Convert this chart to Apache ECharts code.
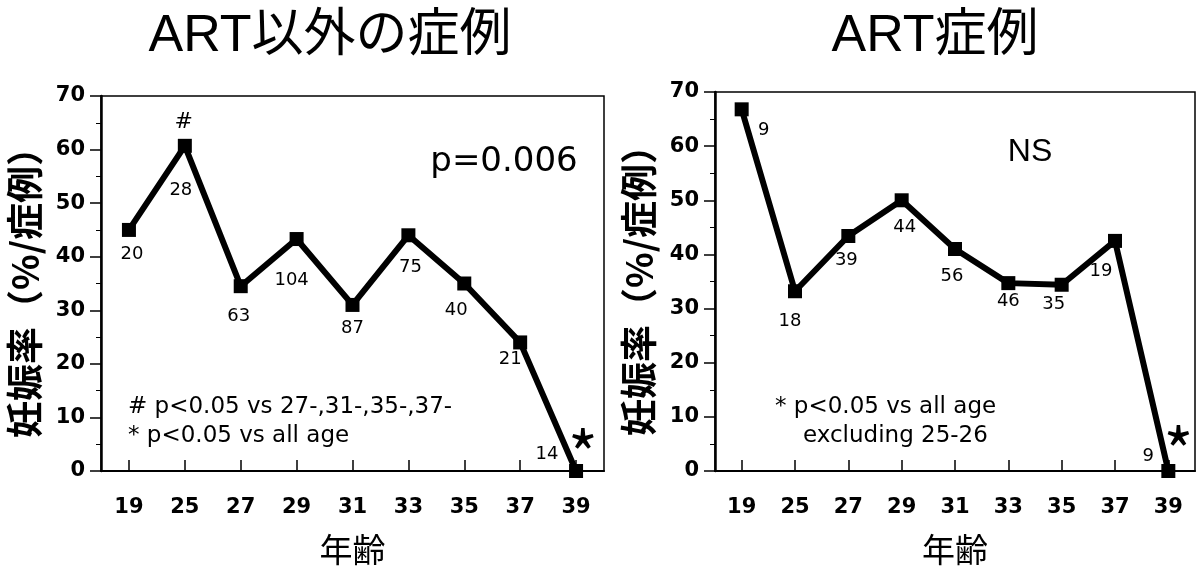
<!DOCTYPE html>
<html><head><meta charset="utf-8">
<script src="https://cdn.jsdelivr.net/npm/echarts@6/dist/echarts.min.js"></script>
<style>html,body{margin:0;padding:0;background:#fff}#c{width:1199px;height:571px}</style>
</head><body><div id="c"></div>
<script>
// ---- data ----
const ages = ['19','25','27','29','31','33','35','37','39'];
const yTicks = [0,10,20,30,40,50,60,70];
const nonArtRate = [45, 60.7, 34.5, 43.3, 31, 44, 35, 24, 0];
const nonArtCases = [20, 28, 63, 104, 87, 75, 40, 21, 14];
const artRate = [66.8, 33.2, 43.4, 50, 41, 34.7, 34.4, 42.5, 0];
const artCases = [9, 18, 39, 44, 56, 46, 35, 19, 9];
const titles = ['ART以外の症例', 'ART症例'];
const yName = '妊娠率（%/症例）';
const xName = '年齢';
const pText = ['p=0.006', 'NS'];
const notesLeft = ['# p<0.05 vs 27-,31-,35-,37-', '* p<0.05 vs all age'];
const notesRight = ['* p<0.05 vs all age', 'excluding 25-26'];

// ---- layout (label offsets from marker centre) ----
const nonArtOff = [[3,24],[-4,45],[-2,30],[-5,41],[0,23],[2,32],[-8,27],[-10,17],[-29,-17]];
const artOff = [[22,21],[-5,30],[-2,24],[3,27],[-3,27],[0,18],[-8,20],[-14,30],[-20,-15]];

const LAT = 'DejaVu Sans';
const JP = '"Liberation Sans","Noto Sans CJK JP"';

function mkX(i){
  return {
    type:'category', gridIndex:i, data:ages, boundaryGap:true,
    axisLine:{show:true, lineStyle:{color:'#000', width:2}},
    axisTick:{show:true, inside:true, alignWithLabel:true, length:11, lineStyle:{color:'#000', width:1.5}},
    axisLabel:{fontFamily:LAT, fontWeight:'bold', fontSize:21, color:'#000', margin:26},
    splitLine:{show:false},
    name:xName, nameLocation:'middle', nameGap:62,
    nameTextStyle:{fontFamily:'Noto Sans CJK JP', fontSize:33, color:'#000'}
  };
}
function mkY(i){
  return {
    type:'value', gridIndex:i, min:yTicks[0], max:yTicks[yTicks.length-1], interval:yTicks[1]-yTicks[0],
    axisLine:{show:true, lineStyle:{color:'#000', width:2.5}},
    axisTick:{show:true, inside:false, length:11, lineStyle:{color:'#000', width:1.5}},
    minorTick:{show:true, splitNumber:2, length:5, lineStyle:{color:'#000', width:1}},
    axisLabel:{fontFamily:LAT, fontWeight:'bold', fontSize:21, color:'#000', margin:16},
    splitLine:{show:false},
    name:yName, nameLocation:'middle', nameRotate:90, nameGap:58,
    nameTextStyle:{fontFamily:'Noto Sans CJK JP', fontWeight:'bold', fontSize:37, color:'#000'}
  };
}
function mkSeries(i, rate, cases, off, marks){
  return {
    type:'line', xAxisIndex:i, yAxisIndex:i,
    data: rate.map((v,k)=>({value:v, label:{offset:off[k], formatter:String(cases[k])}})),
    symbol:'rect', symbolSize:14, showAllSymbol:true,
    itemStyle:{color:'#000'}, lineStyle:{color:'#000', width:6},
    label:{show:true, position:'inside', fontFamily:LAT, fontSize:18, color:'#000', textBorderWidth:0},
    markPoint:{symbol:'rect', symbolSize:0, animation:false,
      label:{show:true, position:'inside', color:'#000', fontFamily:LAT, textBorderWidth:0},
      data: marks},
    z:3, animation:false
  };
}

const chart = echarts.init(document.getElementById('c'), null, {renderer:'canvas'});
chart.setOption({
  backgroundColor:'#fff',
  animation:false,
  grid:[
    {left:101, top:96, width:503, height:383, show:true, borderColor:'#000', borderWidth:1.5, backgroundColor:'transparent'},
    {left:715, top:92, width:480, height:389, show:true, borderColor:'#000', borderWidth:1.5, backgroundColor:'transparent'}
  ],
  xAxis:[mkX(0), mkX(1)],
  yAxis:[mkY(0), mkY(1)],
  series:[
    mkSeries(0, nonArtRate, nonArtCases, nonArtOff, [
      {coord:[ages[1], nonArtRate[1]], label:{formatter:'#', offset:[-1,-24], fontSize:22}},
      {coord:[ages[8], nonArtRate[8]], label:{formatter:'*', offset:[7,-16], fontSize:64, fontFamily:'Noto Sans CJK JP', fontWeight:'normal'}}
    ]),
    mkSeries(1, artRate, artCases, artOff, [
      {coord:[ages[8], artRate[8]], label:{formatter:'*', offset:[10,-19], fontSize:64, fontFamily:'Noto Sans CJK JP', fontWeight:'normal'}}
    ])
  ],
  graphic:[
    {type:'text', x:330, y:37, style:{text:titles[0], font:'52px '+JP, fill:'#000', textAlign:'center', textVerticalAlign:'middle'}},
    {type:'text', x:935, y:37, style:{text:titles[1], font:'52px '+JP, fill:'#000', textAlign:'center', textVerticalAlign:'middle'}},
    {type:'text', x:504, y:162, style:{text:pText[0], font:'34px "DejaVu Sans"', fill:'#000', textAlign:'center', textVerticalAlign:'middle'}},
    {type:'text', x:1030, y:152, style:{text:pText[1], font:'32px "Liberation Sans"', fill:'#000', textAlign:'center', textVerticalAlign:'middle'}},
    {type:'text', x:128, y:407, style:{text:notesLeft[0], font:'23px "DejaVu Sans"', fill:'#000', textAlign:'left', textVerticalAlign:'middle'}},
    {type:'text', x:128, y:436, style:{text:notesLeft[1], font:'23px "DejaVu Sans"', fill:'#000', textAlign:'left', textVerticalAlign:'middle'}},
    {type:'text', x:775, y:407, style:{text:notesRight[0], font:'23px "DejaVu Sans"', fill:'#000', textAlign:'left', textVerticalAlign:'middle'}},
    {type:'text', x:803, y:436, style:{text:notesRight[1], font:'23px "DejaVu Sans"', fill:'#000', textAlign:'left', textVerticalAlign:'middle'}}
  ]
});
</script></body></html>
